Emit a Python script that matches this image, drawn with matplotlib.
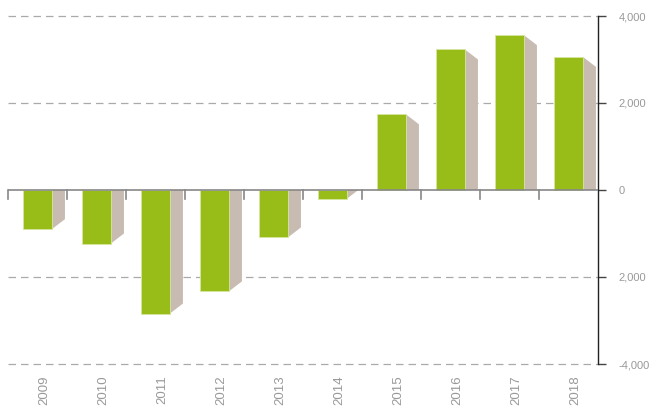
import matplotlib
matplotlib.use("Agg")
import matplotlib.pyplot as plt
import matplotlib.transforms as mtransforms
from matplotlib.patches import Polygon, Rectangle
import numpy as np

plt.rcParams['font.family'] = ['Liberation Sans', 'DejaVu Sans']

years = ["2009", "2010", "2011", "2012", "2013", "2014", "2015", "2016", "2017", "2018"]
values = [-900, -1230, -2840, -2330, -1090, -200, 1740, 3230, 3560, 3060]
ytick_vals = [4000, 2000, 0, -2000, -4000]
ytick_labels = ["4,000", "2,000", "0", "2,000", "-4,000"]

front_c = "#99bd18"
side_c = "#c8bcb2"

fig = plt.figure(figsize=(6.5, 4.07), dpi=100)
ax = fig.add_axes([8/650, 1-364/407, 590/650, 348/407])
ax.set_xlim(0, len(years))
ax.set_ylim(-4000, 4000)

w = 0.49
dx = 13/59
dy = 230
for i, v in enumerate(values):
    c = i + 0.5
    x1 = c - w/2
    x2 = x1 + w
    s = 1 if v >= 0 else -1
    a = abs(v)
    if a > dy:
        pts = [(x2, 0), (x2, v), (x2 + dx, s*(a - dy)), (x2 + dx, 0)]
    else:
        pts = [(x2, 0), (x2, v), (x2 + dx*a/dy, 0)]
    ax.add_patch(Polygon(pts, closed=True, facecolor=side_c, edgecolor="none", zorder=3))
    ax.add_patch(Rectangle((x1, min(0, v)), w, a, facecolor=front_c,
                           edgecolor="#d8e6a0", linewidth=0.6, zorder=4))

for yv in [4000, 2000, -2000, -4000]:
    ax.axhline(yv, color="#aaaaaa", linewidth=0.9, dashes=(6, 4), zorder=1, clip_on=False)

ax.axhline(0, color="#888888", linewidth=1.2, zorder=5)
for b in range(len(years)):
    ax.plot([b, b], [0, -210], color="#888888", linewidth=1.2, zorder=5, clip_on=False)

for sp in ["top", "left", "bottom"]:
    ax.spines[sp].set_visible(False)
ax.spines["right"].set_color("#222222")
ax.spines["right"].set_linewidth(1.0)
ax.yaxis.tick_right()
ax.set_yticks(ytick_vals)
ax.set_yticklabels(ytick_labels)
ax.tick_params(axis="y", length=6, width=1, color="#444444", labelcolor="#999999",
               labelsize=8, pad=9)
ax.set_xticks([i + 0.5 for i in range(len(years))])
ax.set_xticklabels(years, rotation=90, color="#999999", fontsize=9.5)
ax.tick_params(axis="x", length=0, pad=8)
offset = mtransforms.ScaledTranslation(6.5/100, 0, fig.dpi_scale_trans)
for lab in ax.get_xticklabels():
    lab.set_transform(lab.get_transform() + offset)

fig.savefig("out.png", dpi=100)
